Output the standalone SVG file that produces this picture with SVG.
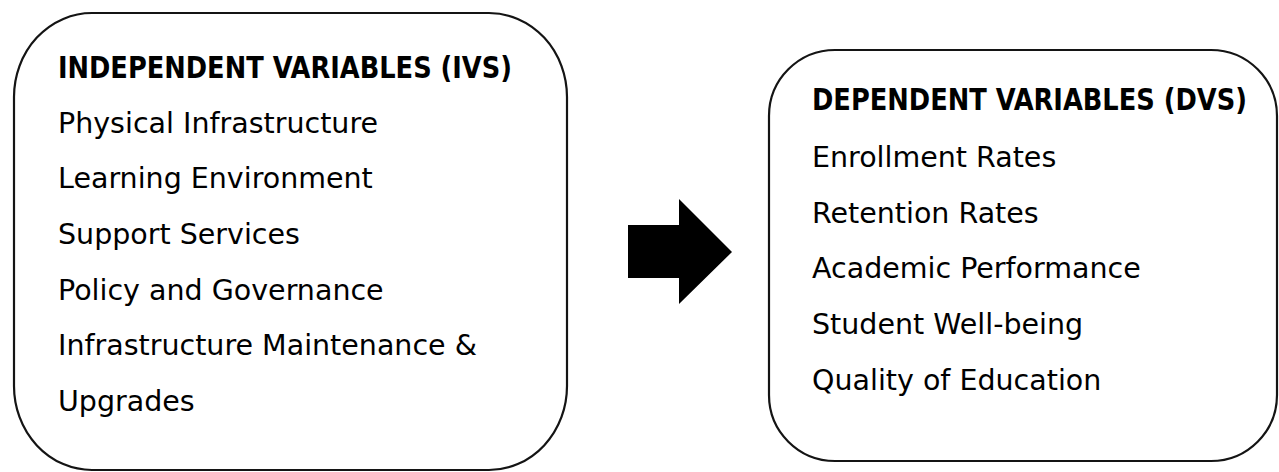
<svg xmlns="http://www.w3.org/2000/svg" width="1279" height="472" viewBox="0 0 1279 472">
<style>
.box{fill:#fff;stroke:#141414;stroke-width:2.2}
.h{font-family:"DejaVu Sans Condensed","DejaVu Sans",sans-serif;font-weight:bold;font-size:31px;fill:#000}
.t{font-family:"DejaVu Sans",sans-serif;font-size:28.5px;fill:#000}
</style>
<rect width="1279" height="472" fill="#fff"/>
<g id="ivs">
<rect class="box" x="14" y="13" width="553" height="457" rx="78" ry="84"/>
<text class="h" x="58" y="78" textLength="454" lengthAdjust="spacingAndGlyphs">INDEPENDENT VARIABLES (IVS)</text>
<text class="t" x="58" y="133">Physical Infrastructure</text>
<text class="t" x="58" y="188">Learning Environment</text>
<text class="t" x="58" y="244">Support Services</text>
<text class="t" x="58" y="300">Policy and Governance</text>
<text class="t" x="58" y="355">Infrastructure Maintenance &amp;</text>
<text class="t" x="58" y="411">Upgrades</text>
</g>
<g id="connectors">
<polygon points="628,225 679,225 679,199 732,252 679,304 679,278 628,278" fill="#000"/>
</g>
<g id="dvs">
<rect class="box" x="769" y="50" width="508" height="411" rx="66" ry="66"/>
<text class="h" x="812" y="110" textLength="435" lengthAdjust="spacingAndGlyphs">DEPENDENT VARIABLES (DVS)</text>
<text class="t" x="812" y="167">Enrollment Rates</text>
<text class="t" x="812" y="223">Retention Rates</text>
<text class="t" x="812" y="278">Academic Performance</text>
<text class="t" x="812" y="334">Student Well-being</text>
<text class="t" x="812" y="390">Quality of Education</text>
</g>
</svg>
